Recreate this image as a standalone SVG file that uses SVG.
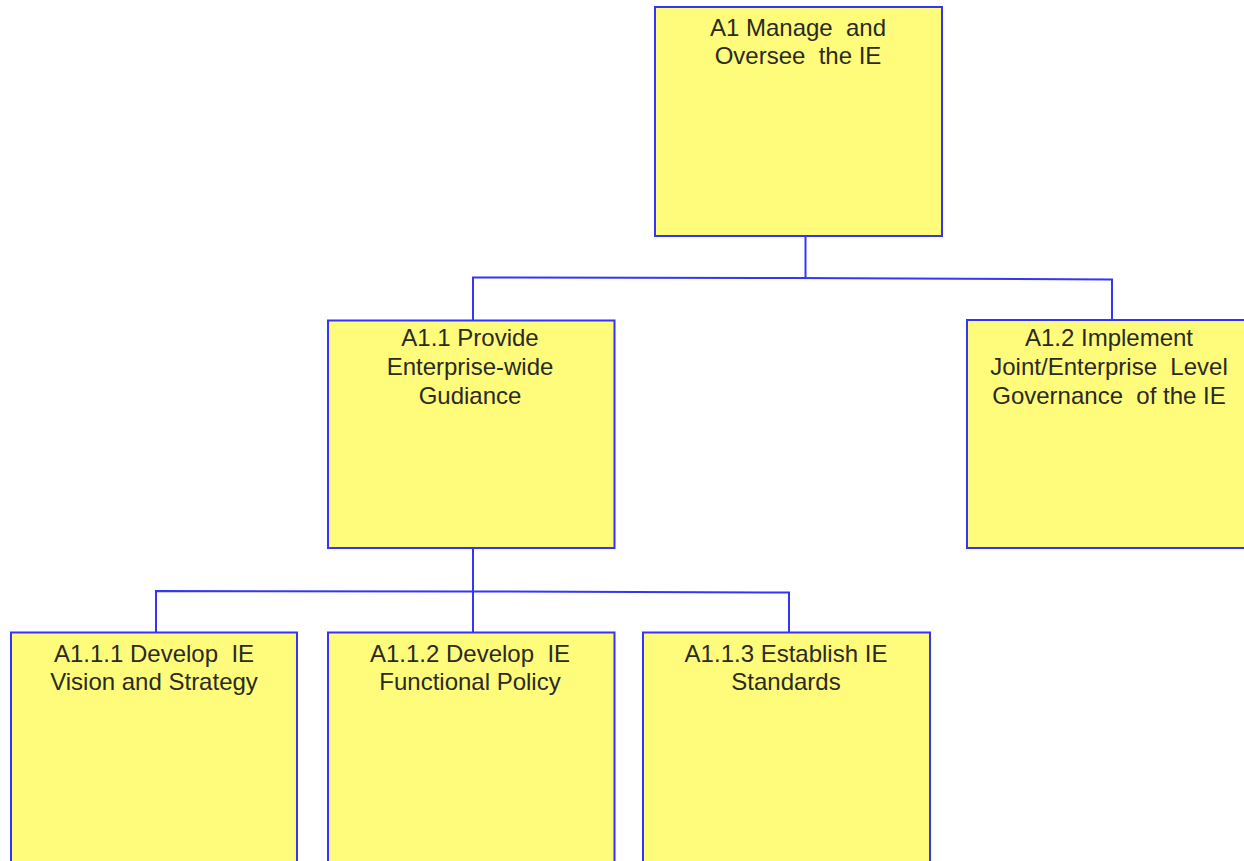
<svg xmlns="http://www.w3.org/2000/svg" width="1244" height="861" viewBox="0 0 1244 861">
<style>
.box{fill:#FFFC7C;stroke:#3535F5;stroke-width:2}
.lbl{font-family:"Liberation Sans",Arial,sans-serif;font-size:24px;fill:#2a2a22;text-anchor:middle;white-space:pre}
.conn{fill:none;stroke:#3535F5;stroke-width:2}
</style>
<rect width="1244" height="861" fill="#ffffff"/>
<g id="connectors">
<polyline class="conn" points="805.5,236 805.5,279"/>
<polyline class="conn" points="473,320 473,277.5 793,278 1112,279.5 1112,320"/>
<polyline class="conn" points="473,548 473,632"/>
<polyline class="conn" points="156,632 156,591 473,591.5 789,592.5 789,632"/>
</g>
<g id="A1">
<rect class="box" x="655" y="7" width="287" height="229"/>
<text class="lbl" x="798" y="36" xml:space="preserve">A1 Manage  and</text>
<text class="lbl" x="798" y="64" xml:space="preserve">Oversee  the IE</text>
</g>
<g id="A1.1">
<rect class="box" x="328" y="320.5" width="286.5" height="227.5"/>
<text class="lbl" x="470" y="346">A1.1 Provide</text>
<text class="lbl" x="470" y="375">Enterprise-wide</text>
<text class="lbl" x="470" y="404">Gudiance</text>
</g>
<g id="A1.2">
<rect class="box" x="967" y="320" width="290" height="228"/>
<text class="lbl" x="1109" y="346">A1.2 Implement</text>
<text class="lbl" x="1109" y="375" xml:space="preserve">Joint/Enterprise  Level</text>
<text class="lbl" x="1109" y="404" xml:space="preserve">Governance  of the IE</text>
</g>
<g id="A1.1.1">
<rect class="box" x="11" y="632.5" width="286" height="240"/>
<text class="lbl" x="154" y="662" xml:space="preserve">A1.1.1 Develop  IE</text>
<text class="lbl" x="154" y="690">Vision and Strategy</text>
</g>
<g id="A1.1.2">
<rect class="box" x="328" y="632.5" width="286.5" height="240"/>
<text class="lbl" x="470" y="662" xml:space="preserve">A1.1.2 Develop  IE</text>
<text class="lbl" x="470" y="690">Functional Policy</text>
</g>
<g id="A1.1.3">
<rect class="box" x="643" y="632.5" width="287" height="240"/>
<text class="lbl" x="786" y="662">A1.1.3 Establish IE</text>
<text class="lbl" x="786" y="690">Standards</text>
</g>
</svg>
